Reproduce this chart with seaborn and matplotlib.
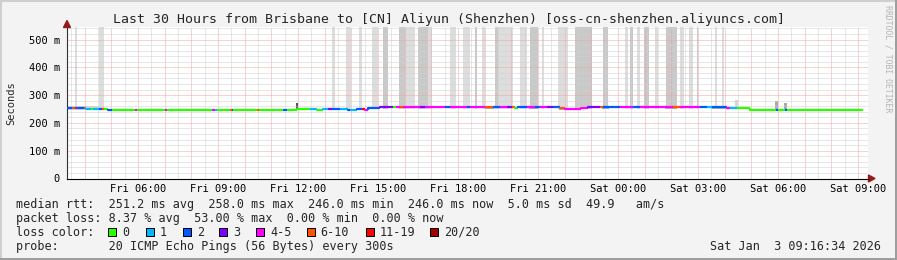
import numpy as np
import pandas as pd
import matplotlib
matplotlib.use("Agg")
import matplotlib.pyplot as plt
from matplotlib.ticker import MultipleLocator, FixedLocator
from matplotlib.patches import Polygon, Rectangle
from matplotlib.lines import Line2D
import seaborn as sns

# ---------------- data ----------------
title = "Last 30 Hours from Brisbane to [CN] Aliyun (Shenzhen) [oss-cn-shenzhen.aliyuncs.com]"
x_tick_hours = [6, 9, 12, 15, 18, 21, 24, 27, 30, 33]
x_tick_labels = ["Fri 06:00", "Fri 09:00", "Fri 12:00", "Fri 15:00", "Fri 18:00",
                 "Fri 21:00", "Sat 00:00", "Sat 03:00", "Sat 06:00", "Sat 09:00"]
y_ticks = [0, 100, 200, 300, 400, 500]
y_tick_labels = ["0", "100 m", "200 m", "300 m", "400 m", "500 m"]
x_range = [3.333, 33.37]   # hours since Fri 00:00
y_range = [0, 544]

# median rtt (ms), step values starting at the given hour
median_t = [3.33, 4.05, 4.87, 11.96, 12.71, 12.93, 13.27, 13.87, 14.21, 14.40, 14.51,
            14.62, 15.07, 20.13, 20.24, 21.33, 21.82, 22.01, 22.40, 22.60, 22.87,
            27.07, 28.08, 28.46, 28.70, 28.94]
median_ms = [253, 251, 246, 249, 246, 249, 250, 248, 251, 250, 247,
             254, 258, 254, 258, 256, 252, 250, 251, 254, 258,
             257, 255, 253, 255, 246]
data_end = 33.18

# lost pings (of 20), step values starting at the given hour
loss_t = [3.33, 3.52, 3.63, 3.71, 3.74, 3.97, 4.05, 4.23, 4.31, 4.53, 4.64, 4.72, 4.87,
          5.02, 5.88, 5.96, 7.01, 7.08, 8.77, 8.88, 8.96, 9.45, 9.52, 9.56, 10.46, 10.53,
          11.43, 11.58, 12.44, 12.71, 12.93, 13.11, 13.27, 13.57, 13.87, 13.95, 14.21,
          14.40, 14.51, 14.62, 15.07, 15.56, 15.67, 15.82, 15.93, 16.57, 16.76, 17.51,
          17.69, 18.33, 18.44, 19.01, 19.31, 19.57, 19.83, 20.02, 20.13, 20.24, 20.58,
          20.88, 21.07, 21.33, 21.56, 21.82, 22.01, 22.87, 23.32, 23.43, 24.07, 24.56,
          24.82, 26.06, 26.32, 27.07, 27.33, 27.52, 28.08, 28.19, 28.46, 29.92, 29.99,
          30.26, 30.33]
loss_n = [2, 7, 2, 4, 2, 7, 1, 0, 1, 2, 7, 0, 2,
          0, 4, 0, 4, 0, 4, 1, 0, 7, 2, 0, 7, 0,
          2, 0, 1, 0, 1, 3, 2, 1, 2, 1, 2,
          12, 4, 2, 3, 0, 4, 7, 4, 3, 4, 2,
          4, 2, 4, 7, 2, 4, 3, 7, 0, 2, 4,
          2, 4, 3, 2, 7, 4, 3, 7, 2, 4, 2,
          4, 7, 4, 2, 1, 2, 4, 1, 0, 2, 0,
          2, 0]

# tall smoke (outlier pings above the plot)
smoke_start = [3.63, 4.53, 13.27, 13.80, 14.28, 14.77, 15.18, 15.78, 16.01, 16.49, 16.87,
               17.69, 18.18, 18.63, 18.89, 19.38, 19.49, 20.32, 20.70, 21.14, 21.74,
               22.38, 23.43, 24.26, 24.44, 24.71, 24.97, 25.38, 25.79, 26.32, 26.66,
               26.96, 27.63, 27.89]
smoke_end = [3.71, 4.72, 13.38, 13.98, 14.40, 14.99, 15.37, 16.01, 16.38, 16.87, 17.02,
             17.92, 18.44, 18.71, 19.01, 19.49, 20.06, 20.58, 21.00, 21.22, 22.12,
             23.02, 23.62, 24.37, 24.56, 24.82, 25.16, 25.49, 26.21, 26.47, 26.81,
             27.00, 27.71, 27.97]
smoke_dark = [0, 0, 0, 0, 0, 0, 1, 1, 0, 1, 0,
              0, 0, 1, 0, 1, 0, 0, 1, 0, 0,
              1, 1, 0, 1, 0, 1, 0, 1, 0, 0,
              1, 0, 0]
smoke_low, smoke_high = 250, 600

# smoke close to the median
near_start = [3.33, 11.93, 28.40, 28.80, 29.90, 30.22, 19.00, 20.65, 21.80, 23.40, 25.75, 27.50]
near_end = [4.72, 12.00, 28.50, 28.90, 30.00, 30.33, 19.35, 21.00, 22.40, 23.65, 26.20, 28.45]
near_lo = [246, 247, 250, 250, 248, 248, 251, 251, 246, 251, 251, 250]
near_hi = [260, 271, 283, 256, 280, 273, 258, 258, 254, 258, 258, 256]
near_kind = ["light", "spike", "light", "light", "mid", "mid", "mid", "mid", "mid", "mid", "mid", "mid"]

loss_labels = ["0", "1", "2", "3", "4-5", "6-10", "11-19", "20/20"]
loss_upper = [0, 1, 2, 3, 5, 10, 19, 20]
loss_colors = ["#26ff00", "#00b8ff", "#0059ff", "#7e00ff", "#ff00ff", "#ff5500", "#ff0000", "#a10000"]

stat_lines = [
    "median rtt:  251.2 ms avg  258.0 ms max  246.0 ms min  246.0 ms now  5.0 ms sd  49.9   am/s",
    "packet loss: 8.37 % avg  53.00 % max  0.00 % min  0.00 % now",
    "loss color:",
    "probe:       20 ICMP Echo Pings (56 Bytes) every 300s",
]
stamp = "Sat Jan  3 09:16:34 2026"

# ---------------- style ----------------
sns.set_style("white")
plt.rcParams["font.family"] = ["DejaVu Sans Mono"]
plt.rcParams["lines.solid_capstyle"] = "butt"

W, H = 897, 260
BG = "#f3f3f3"
fig = plt.figure(figsize=(W / 100, H / 100), dpi=100, facecolor=BG)

def fx(px):
    return px / W

def fy(py):
    return 1 - py / H

ax_l, ax_r, ax_t, ax_b = 67, 868, 27.3, 178.5
ax = fig.add_axes([fx(ax_l), fy(ax_b), fx(ax_r - ax_l), (ax_b - ax_t) / H])
ax.set_facecolor("white")
ax.set_xlim(*x_range)
ax.set_ylim(*y_range)
ax.set_axisbelow("line")

# smoke
shade = {0: "#dddddd", 1: "#c9c9c9"}
ax.bar(smoke_start, smoke_high - smoke_low,
       width=np.array(smoke_end) - np.array(smoke_start),
       bottom=smoke_low, align="edge",
       color=[shade[d] for d in smoke_dark], linewidth=0, zorder=1)
near_col = {"light": "#d6d6d6", "mid": "#a9a9a9", "spike": "#555555"}
ax.bar(near_start, np.array(near_hi) - np.array(near_lo),
       width=np.array(near_end) - np.array(near_start),
       bottom=near_lo, align="edge",
       color=[near_col[k] for k in near_kind], linewidth=0, zorder=1.1)

# median line, coloured by loss
def step_lookup(ts, vs, t):
    i = int(np.searchsorted(ts, t, side="right")) - 1
    return vs[max(i, 0)]

def loss_color(n):
    for up, c in zip(loss_upper, loss_colors):
        if n <= up:
            return c
    return loss_colors[-1]

bps = sorted(set(median_t) | set(loss_t))
bps = [b for b in bps if b < data_end] + [data_end]
rows, pal = [], {}
prev_v = None
for i in range(len(bps) - 1):
    t0, t1 = bps[i], bps[i + 1]
    v = step_lookup(median_t, median_ms, t0)
    c = loss_color(step_lookup(loss_t, loss_n, t0))
    seg = f"s{i}"
    pal[seg] = c
    start_v = v if prev_v is None else prev_v
    for xx, yy in [(t0, start_v), (t0, v), (t1, v)]:
        rows.append({"t": xx, "rtt": yy, "seg": seg})
    prev_v = v
df = pd.DataFrame(rows)
sns.lineplot(data=df, x="t", y="rtt", hue="seg", palette=pal, sort=False,
             estimator=None, legend=False, linewidth=1.6, ax=ax, zorder=3)

# grid
ax.xaxis.set_minor_locator(MultipleLocator(0.5))
ax.yaxis.set_minor_locator(MultipleLocator(20))
ax.grid(which="minor", color="#d0d0d0", linestyle=(0, (1, 1)), linewidth=0.72)
ax.grid(which="major", color="#f2a4a4", linestyle=(0, (1, 1)), linewidth=0.72)

maj = list(np.arange(4, 34, 1.0))
ax.set_xticks(maj)
ax.set_xticklabels([x_tick_labels[x_tick_hours.index(int(h))] if int(h) in x_tick_hours else "" for h in maj])
ax.set_yticks(y_ticks)
ax.set_yticklabels(y_tick_labels)
ax.set_xlabel("")
ax.set_ylabel("")
ax.tick_params(which="both", direction="out", length=2, width=0.72, color="#333333",
               labelsize=7.5, labelcolor="black", pad=3)
ax.tick_params(axis="x", pad=2)

for s in ["top", "right"]:
    ax.spines[s].set_visible(False)
ax.spines["left"].set_color("#333333")
ax.spines["bottom"].set_color("#000000")
ax.spines["left"].set_linewidth(0.8)
ax.spines["bottom"].set_linewidth(0.8)

# arrows
arrow_c = "#961b1b"
fig.add_artist(Polygon([(fx(63.5), fy(27.5)), (fx(70.5), fy(27.5)), (fx(67), fy(20.5))],
                       closed=True, color=arrow_c, transform=fig.transFigure))
fig.add_artist(Line2D([fx(ax_r), fx(869)], [fy(ax_b), fy(ax_b)], color="black", lw=0.8,
                      transform=fig.transFigure))
fig.add_artist(Polygon([(fx(868.5), fy(175)), (fx(868.5), fy(182)), (fx(875), fy(178.5))],
                       closed=True, color=arrow_c, transform=fig.transFigure))

# texts
fig.text(fx(448.5), fy(19), title, ha="center", va="center", fontsize=9.5)
fig.text(fx(11), fy(103), "Seconds", ha="center", va="center", rotation=90, fontsize=7.5)
fig.text(fx(888), fy(59), "RRDTOOL / TOBI OETIKER", ha="center", va="center",
         rotation=270, fontsize=5.9, color="#b4b4b4")

row_y = [204.3, 218.3, 232.3, 246.3]
for txt, yy in zip(stat_lines, row_y):
    fig.text(fx(16), fy(yy), txt, ha="left", va="center", fontsize=8.5)
fig.text(fx(881), fy(row_y[3]), stamp, ha="right", va="center", fontsize=8.5)

box_x = [108.3, 145.7, 182.7, 219.3, 256.3, 306.7, 366, 430]
for bx, lab, col in zip(box_x, loss_labels, loss_colors):
    fig.add_artist(Rectangle((fx(bx), fy(236)), fx(8), 8 / H, facecolor=col,
                             edgecolor="black", linewidth=0.72, transform=fig.transFigure))
    fig.text(fx(bx + 14), fy(row_y[2]), lab, ha="left", va="center", fontsize=8.5)

# frame
fig.add_artist(Line2D([0, 1], [fy(1), fy(1)], color="#cfcfcf", lw=1.44, transform=fig.transFigure))
fig.add_artist(Line2D([fx(1), fx(1)], [0, 1], color="#cfcfcf", lw=1.44, transform=fig.transFigure))
fig.add_artist(Line2D([0, 1], [fy(259), fy(259)], color="#9e9e9e", lw=1.44, transform=fig.transFigure))
fig.add_artist(Line2D([fx(896), fx(896)], [0, 1], color="#9e9e9e", lw=1.44, transform=fig.transFigure))

fig.savefig("out.png", dpi=100, facecolor=BG)
